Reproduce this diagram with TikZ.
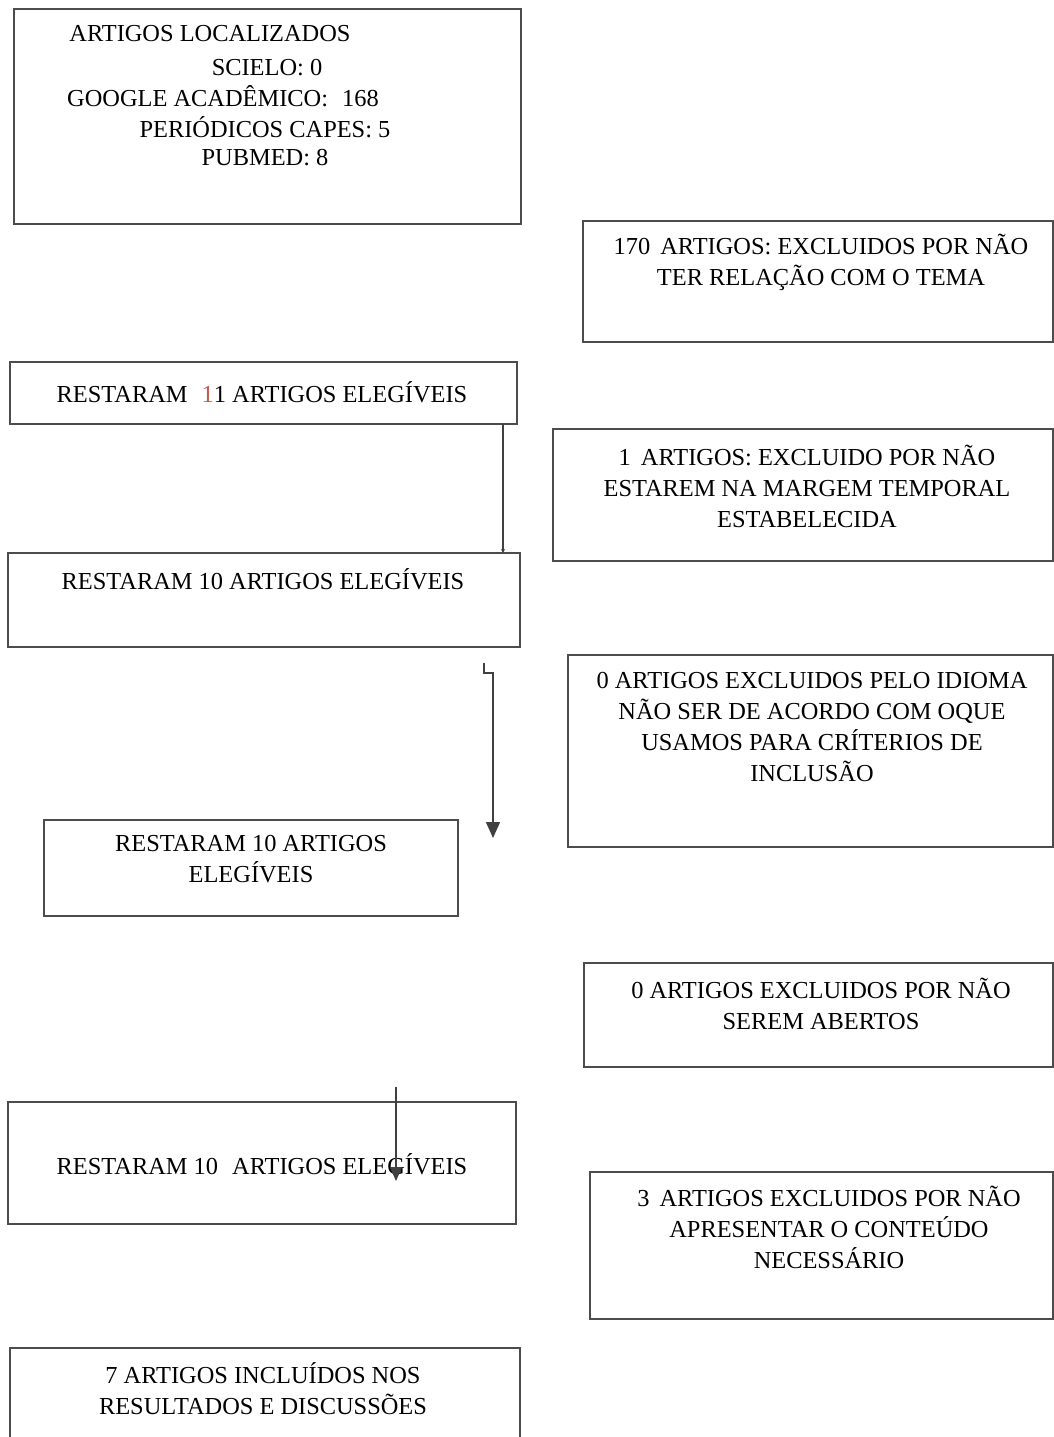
\documentclass[tikz,border=0pt]{standalone}
\usepackage{fontspec}
\setmainfont{Liberation Serif}
\usetikzlibrary{fit,arrows.meta}
\definecolor{numred}{RGB}{205,85,75}
\begin{document}
\begin{tikzpicture}[x=0.5pt, y=-0.5pt,
    stage/.style={rectangle, draw=black!70, line width=0.8pt, inner sep=0pt},
    txt/.style={align=center, inner sep=0pt,
      font=\fontsize{12.2}{15.5}\selectfont},
    line/.style={draw=black!75, line width=0.7pt}
  ]
    \useasboundingbox (0,0) rectangle (1054,1437);
    \clip (0,0) rectangle (1054,1437);

    % Caixas da esquerda
    \node[stage, fit={(14,9) (521,224)}] (found) {};
    \node[stage, fit={(10,362) (517,424)}] (left11) {};
    \node[stage, fit={(8,553) (520,647)}] (left10a) {};
    \node[stage, fit={(44,820) (458,916)}] (left10b) {};
    \node[stage, fit={(8,1102) (516,1224)}] (left10c) {};
    \node[stage, fit={(10,1348) (520,1450)}] (final) {};

    % Caixas da direita (exclusoes)
    \node[stage, fit={(583,221) (1053,342)}] (excA) {};
    \node[stage, fit={(553,429) (1053,561)}] (excB) {};
    \node[stage, fit={(568,655) (1053,847)}] (excC) {};
    \node[stage, fit={(584,963) (1053,1067)}] (excD) {};
    \node[stage, fit={(590,1172) (1053,1319)}] (excE) {};

    % Textos
    \node[txt] (found-a) at (210,34) {ARTIGOS LOCALIZADOS};
    \node[txt] (found-b) at (267,68) {SCIELO: 0};
    \node[txt] (found-c) at (223,96) {GOOGLE ACADÊMICO:\hspace{4pt} 168};
    \node[txt] (found-d) at (265,127) {PERIÓDICOS CAPES: 5};
    \node[txt] (found-e) at (265,158) {PUBMED: 8};

    \node[txt] (excA-t) at (821,262)
      {170\hspace{2pt} ARTIGOS: EXCLUIDOS POR NÃO\\TER RELAÇÃO COM O TEMA};
    \node[txt] (left11-t) at (262,392)
      {RESTARAM\hspace{4pt} \textcolor{numred}{1}1 ARTIGOS ELEGÍVEIS};
    \node[txt] (excB-t) at (807,486)
      {1\hspace{2pt} ARTIGOS: EXCLUIDO POR NÃO\\ESTAREM NA MARGEM TEMPORAL\\ESTABELECIDA};
    \node[txt] (left10a-t) at (263,579) {RESTARAM 10 ARTIGOS ELEGÍVEIS};
    \node[txt] (excC-t) at (812,727)
      {0 ARTIGOS EXCLUIDOS PELO IDIOMA\\NÃO SER DE ACORDO COM OQUE\\USAMOS PARA CRÍTERIOS DE\\INCLUSÃO};
    \node[txt] (left10b-t) at (251,859) {RESTARAM 10 ARTIGOS\\ELEGÍVEIS};
    \node[txt] (excD-t) at (821,1004)
      {0 ARTIGOS EXCLUIDOS POR NÃO\\SEREM ABERTOS};
    \node[txt] (left10c-t) at (262,1164)
      {RESTARAM 10\hspace{4pt} ARTIGOS ELEGÍVEIS};
    \node[txt] (excE-t) at (829,1227)
      {3\hspace{2pt} ARTIGOS EXCLUIDOS POR NÃO\\APRESENTAR O CONTEÚDO\\NECESSÁRIO};
    \node[txt] (final-t) at (263,1389)
      {7 ARTIGOS INCLUÍDOS NOS\\RESULTADOS E DISCUSSÕES};

    % Setas
    \coordinate (a1s) at (503,424);
    \coordinate (a1e) at (503,553);
    \coordinate (a2s) at (484,663);
    \coordinate (a2e) at (493,838);
    \coordinate (a3s) at (396,1087);
    \coordinate (a3e) at (396,1181);

    \draw[line, -{Stealth[length=2pt,width=2pt]}] (a1s) -- (a1e);
    \draw[line, -{Triangle[length=8pt,width=7pt]}]
      (a2s) -- ++(0,10) -- ++(9,0) -- (a2e);
    \draw[line, -{Triangle[length=7pt,width=6pt]}] (a3s) -- (a3e);
  \end{tikzpicture}
\end{document}
